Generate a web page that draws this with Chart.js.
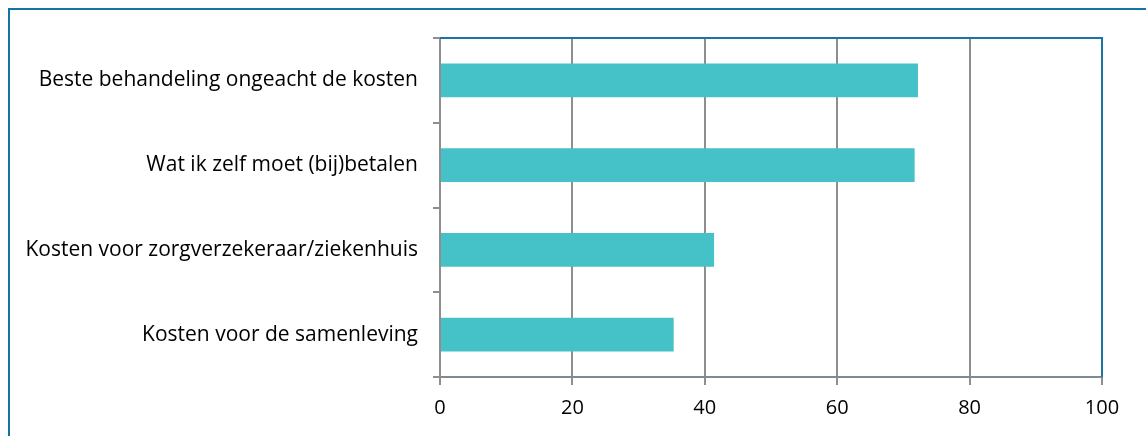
<!DOCTYPE html>
<html>
<head>
<meta charset="utf-8">
<script src="https://cdn.jsdelivr.net/npm/chart.js@4"></script>
<style>
  html, body { margin: 0; padding: 0; background: #ffffff; }
  #wrap { position: relative; width: 1146px; height: 436px; }
</style>
</head>
<body>
<div id="wrap"><canvas id="c" width="1146" height="436"></canvas></div>
<script>
const categories = [
  "Beste behandeling ongeacht de kosten",
  "Wat ik zelf moet (bij)betalen",
  "Kosten voor zorgverzekeraar/ziekenhuis",
  "Kosten voor de samenleving"
];
const values = [72.2, 71.7, 41.4, 35.3];
const xTickValues = [0, 20, 40, 60, 80, 100];

const FONT = "'Open Sans', Lato, sans-serif";

const framePlugin = {
  id: 'frame',
  beforeDraw(chart) {
    const ctx = chart.ctx;
    ctx.save();
    ctx.fillStyle = '#ffffff';
    ctx.fillRect(0, 0, chart.width, chart.height);
    ctx.strokeStyle = '#1572A5';
    ctx.lineWidth = 2;
    ctx.beginPath();
    ctx.moveTo(9, chart.height + 2);
    ctx.lineTo(9, 9);
    ctx.lineTo(chart.width + 2, 9);
    ctx.stroke();
    ctx.restore();
  },
  afterDraw(chart) {
    const a = chart.chartArea;
    const ctx = chart.ctx;
    ctx.save();
    ctx.strokeStyle = '#1A75A6';
    ctx.lineWidth = 2;
    ctx.beginPath();
    ctx.moveTo(a.left, a.top);
    ctx.lineTo(a.right, a.top);
    ctx.lineTo(a.right, a.bottom);
    ctx.stroke();
    ctx.restore();
  }
};

new Chart(document.getElementById('c'), {
  type: 'bar',
  data: {
    labels: categories,
    datasets: [{
      data: values,
      backgroundColor: '#45C2C7',
      borderWidth: 0,
      barPercentage: 0.4,
      categoryPercentage: 1.0
    }]
  },
  options: {
    indexAxis: 'y',
    responsive: false,
    animation: false,
    events: [],
    layout: { padding: { left: 0, top: 38, right: 44, bottom: 0 } },
    plugins: { legend: { display: false }, tooltip: { enabled: false } },
    scales: {
      x: {
        min: 0, max: 100,
        afterBuildTicks(scale) { scale.ticks = xTickValues.map(v => ({ value: v })); },
        afterFit(scale) { scale.height = 59; },
        grid: { color: '#8E8E8E', lineWidth: 2, tickLength: 8, tickColor: '#8E8E8E', drawOnChartArea: true },
        border: { display: true, color: '#7D8B93', width: 2 },
        ticks: { color: '#000000', padding: 11, font: { family: FONT, size: 20 }, maxRotation: 0 }
      },
      y: {
        afterFit(scale) { scale.width = 440; },
        grid: { offset: true, drawOnChartArea: false, drawTicks: true, tickLength: 7, tickColor: '#8E8E8E', lineWidth: 2 },
        border: { display: true, color: '#8E8E8E', width: 2 },
        ticks: { color: '#000000', padding: 15, font: { family: FONT, size: 21 } }
      }
    }
  },
  plugins: [framePlugin]
});
</script>
</body>
</html>
